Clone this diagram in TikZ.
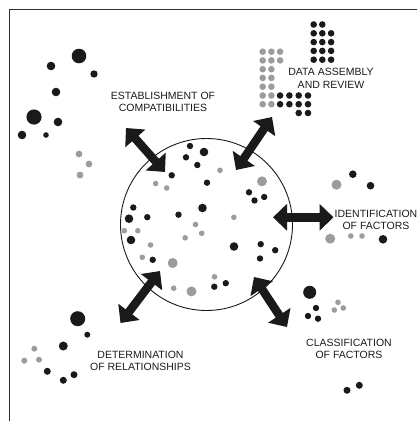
\documentclass[tikz,border=0pt]{standalone}
\usepackage{fontspec}
\setmainfont{Liberation Sans}
\usetikzlibrary{arrows.meta}
\definecolor{ink}{HTML}{1A1A1A}
\definecolor{dotgray}{HTML}{9C9C9C}
\definecolor{framegray}{HTML}{2E2E2E}
\tikzset{
  bdot/.style={fill=ink},
  gdot/.style={fill=dotgray},
  frameline/.style={draw=framegray, line width=1.6pt},
  pool/.style={circle, draw=ink, line width=0.9pt, inner sep=0pt, minimum size=172pt},
  twoway/.style={ink, line width=8.5pt,
    {Triangle[width=26pt,length=14pt]}-{Triangle[width=26pt,length=14pt]}},
  caption/.style={font=\fontsize{10.5}{12}\selectfont, text=ink, align=center, inner sep=0pt}
}
\begin{document}
\begin{tikzpicture}[x=1pt, y=-1pt]
\useasboundingbox (0,0) rectangle (417,421);

% frame on top and left
\draw[frameline] (9.5,421) -- (9.5,9.5) -- (417,9.5);

% central pool of factors
\node[pool] (pool) at (206.5,224.5) {};

% black dots
\foreach \x/\y/\r in {
  79/56/7.3, 51/66/4.3, 94/74/3.7, 56/92/4.3, 34/117/7.6, 58/122/4.3, 22/135/4.3, 46/135/2.8,
  190/146/3.2, 204/152/4.3, 186/157.3/3.2, 197.3/165/3.2, 171.7/175.3/3.2, 207/182.7/3.2,
  249/192.3/3.2, 254.5/200.5/3.2, 264.2/197/3.2, 133.3/207.5/3.2, 202.5/208/4.3,
  178.5/214.7/3.2, 147.3/217.2/3.2, 129/218.7/4.3, 131/240/4.3, 234/246.5/4.3,
  260.7/244.2/3.2, 275.2/250.2/3.2, 260/258.5/3.2, 152.7/259.8/3.2, 225.8/283.2/3.2,
  214.3/286.7/3.2,
  352.8/174.2/3.8, 370.5/185.7/3.8, 383/239.3/4.3,
  309.7/292.3/6.5, 316/308/3.2, 308/316/3.2, 318/318.7/3.2, 347/390.3/3.5, 359.3/385.3/3.5,
  77.7/318.7/7.5, 87.3/334.7/3, 63.3/346/4.5, 47.3/371.3/3.5, 74/374.7/3.5, 63.3/380.3/3.5}
  \fill[bdot] (\x,\y) circle (\r pt);

% gray dots
\foreach \x/\y/\r in {
  79/154/3.4, 89/164/3.4, 80/175/3.4,
  220/170.3/2.8, 155.7/183.5/2.8, 166.7/188/2.8, 262/181.3/5, 233.8/217.3/2.8,
  195.5/224.5/2.8, 124.3/230.7/2.8, 137.8/230.7/2.8, 201.7/233.3/2.8, 185.2/237.8/2.8,
  150.5/245/2.8, 142.3/257.3/2.8, 172.7/263/5, 214.5/276.8/2.8, 173.7/288.2/2.8, 191.5/291.4/5,
  336.5/184.7/5, 330.2/238.7/5, 350.8/236/2.8, 362/236/2.8,
  338/302.3/2.8, 343.3/308/2.8, 334.3/310/2.8,
  34.3/348.7/3, 24.3/360.7/3, 39/359.7/3}
  \fill[gdot] (\x,\y) circle (\r pt);

% data grid: gray block
\foreach \y in {51.7,60.4} \foreach \x in {262.7,271.4,280.1}
  \fill[gdot] (\x,\y) circle (3.3pt);
\foreach \y in {69.2,77.9,86.7,95.5,104.2} \foreach \x in {262.7,271.4}
  \fill[gdot] (\x,\y) circle (3.3pt);
% data grid: black blocks
\foreach \x in {313.7,322.3} \fill[bdot] (\x,24.5) circle (3.3pt);
\foreach \y in {33.3,42.1,50.9,59.7} \foreach \x in {313.7,322.3,331.1}
  \fill[bdot] (\x,\y) circle (3.3pt);
\foreach \y in {95.5,104.2} \foreach \x in {280.1,289.4,298.7,308}
  \fill[bdot] (\x,\y) circle (3.3pt);
\foreach \x in {298.7,308} \fill[bdot] (\x,113) circle (3.3pt);

% arrow end points
\coordinate (compatA) at (126,128);
\coordinate (compatB) at (165,172);
\coordinate (dataA) at (272,117);
\coordinate (dataB) at (236,170);
\coordinate (identA) at (273,217.3);
\coordinate (identB) at (333.5,217.3);
\coordinate (relA) at (160,271);
\coordinate (relB) at (120.5,323);
\coordinate (classA) at (254,277);
\coordinate (classB) at (287,327);

\draw[twoway] (compatA) -- (compatB);
\draw[twoway] (dataA) -- (dataB);
\draw[twoway] (identA) -- (identB);
\draw[twoway] (relA) -- (relB);
\draw[twoway] (classA) -- (classB);

% labels
\node[caption] (compat) at (163,101.8) {ESTABLISHMENT OF\\COMPATIBILITIES};
\node[caption, font=\fontsize{10.5}{13.5}\selectfont] (data) at (331,78.3) {DATA ASSEMBLY\\AND REVIEW};
\node[caption] (ident) at (376,220) {IDENTIFICATION\\OF FACTORS};
\node[caption] (class) at (349,349.2) {CLASSIFICATION\\OF FACTORS};
\node[caption] (rel) at (140.5,360.5) {DETERMINATION\\OF RELATIONSHIPS};
\end{tikzpicture}
\end{document}
